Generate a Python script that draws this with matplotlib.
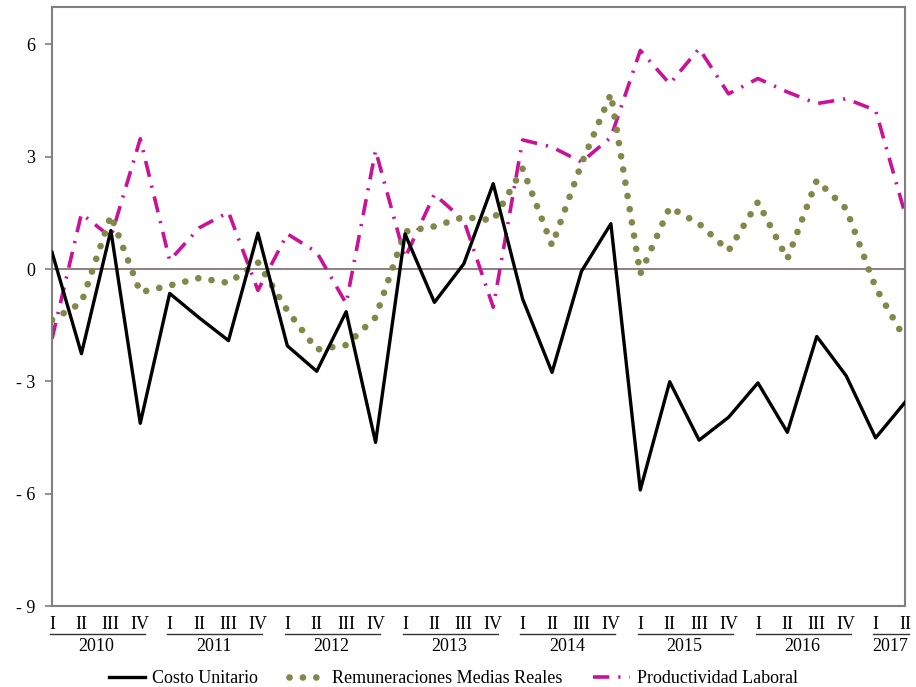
import numpy as np
import matplotlib.pyplot as plt
import matplotlib.transforms as mtransforms
from matplotlib.lines import Line2D

plt.rcParams['font.family'] = ['Liberation Serif', 'DejaVu Serif']

# Data: quarterly variation (%), 2010 I .. 2017 II
quarters = ["I", "II", "III", "IV"] * 7 + ["I", "II"]
years = ["2010", "2011", "2012", "2013", "2014", "2015", "2016", "2017"]
costo_unitario = [0.45, -2.26, 1.03, -4.12, -0.65, -1.3, -1.91, 0.96, -2.05, -2.73,
                  -1.14, -4.63, 0.94, -0.89, 0.14, 2.28, -0.80, -2.76, -0.06, 1.21,
                  -5.90, -3.01, -4.57, -3.96, -3.04, -4.36, -1.80, -2.85, -4.51, -3.56]
remuneraciones = [-1.36, -0.9, 1.43, -0.62, -0.44, -0.24, -0.37, 0.18, -1.11, -2.15,
                  -2.03, -1.29, 1.0, 1.14, 1.39, 1.3, 2.68, 0.63, 2.81, 4.68,
                  -0.13, 1.65, 1.21, 0.49, 1.79, 0.27, 2.37, 1.61, -0.49, -1.87]
productividad = [-1.86, 1.48, 0.85, 3.48, 0.23, 1.1, 1.52, -0.57, 0.94, 0.45,
                 -0.92, 3.17, 0.3, 2.0, 1.3, -1.02, 3.45, 3.26, 2.86, 3.52,
                 5.84, 4.95, 5.89, 4.68, 5.09, 4.73, 4.42, 4.55, 4.24, 1.48]
yticks = [-9, -6, -3, 0, 3, 6]

x = np.arange(len(quarters))

fig = plt.figure(figsize=(9.16, 6.87), dpi=100)
ax = fig.add_axes([0.0568, 0.1179, 0.9312, 0.8719])

ax.axhline(0, color='#7a6a6a', lw=1.2, zorder=1)

ax.plot(x, costo_unitario, color='black', lw=2.4, label='Costo Unitario', zorder=4)
ax.plot(x, remuneraciones, color='#82874a', lw=4.8,
        linestyle=(0, (0.01, 2.0)), dash_capstyle='round',
        label='Remuneraciones Medias Reales', zorder=3)
ax.plot(x, productividad, color='#cc1199', lw=2.6,
        linestyle=(0, (4.5, 2.5, 0.6, 2.5)),
        label='Productividad Laboral', zorder=2)

ax.set_xlim(0, len(x) - 1)
ax.set_ylim(-9, 7)
ax.set_yticks(yticks)
ax.set_yticklabels([str(v) if v >= 0 else "- " + str(-v) for v in yticks])
ax.tick_params(axis='y', length=5, width=1.2, color='#808080', pad=7, labelsize=13)
ax.set_xticks(x)
ax.set_xticklabels(quarters)
ax.tick_params(axis='x', length=0, pad=7, labelsize=13)

for s in ax.spines.values():
    s.set_color('#808080')
    s.set_linewidth(1.5)

# year groups under the quarter labels
trans = mtransforms.blended_transform_factory(ax.transData, ax.transAxes)
for i, yr in enumerate(years):
    first = i * 4
    last = min(first + 3, len(x) - 1)
    ax.add_line(Line2D([first - 0.08, last + 0.15], [-0.047, -0.047], transform=trans,
                       color='#333333', lw=1.0, clip_on=False))
    ax.text((first + last) / 2, -0.054, yr, transform=trans, ha='center', va='top',
            fontsize=13)

fig.legend(loc='lower center', ncol=3, frameon=False, fontsize=13,
           bbox_to_anchor=(0.495, -0.024), handlelength=2.0, columnspacing=1.7,
           handletextpad=0.4)

fig.savefig('out.png', dpi=100)
